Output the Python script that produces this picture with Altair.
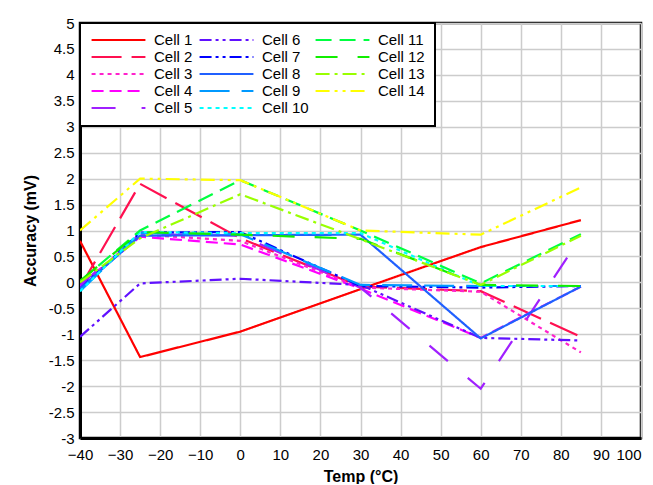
import altair as alt
import pandas as pd

temps = [-40, -25, 0, 30, 60, 85]
cell1 = [0.80, -1.44, -0.95, -0.13, 0.68, 1.20]
cell2 = [-0.10, 1.90, 0.85, -0.08, -0.17, -1.05]
cell3 = [-0.07, 0.92, 0.80, -0.10, -0.18, -1.35]
cell4 = [-0.08, 0.88, 0.73, -0.12, -1.07, -0.08]
cell5 = [-0.05, 0.93, 0.90, -0.10, -2.05, 0.88]
cell6 = [-1.05, -0.02, 0.07, -0.05, -1.07, -1.12]
cell7 = [-0.12, 0.96, 0.97, -0.07, -0.10, -0.07]
cell8 = [-0.12, 0.90, 0.91, 0.92, -1.08, -0.08]
cell9 = [-0.17, 0.95, 0.93, -0.05, -0.07, -0.07]
cell10 = [-0.17, 0.97, 0.95, 0.95, -0.07, -0.07]
cell11 = [0.02, 1.00, 1.97, 1.00, -0.02, 0.93]
cell12 = [0.03, 0.97, 0.92, 0.84, -0.05, -0.07]
cell13 = [0.00, 0.85, 1.70, 0.83, -0.05, 0.90]
cell14 = [1.00, 2.00, 1.97, 1.00, 0.92, 1.83]

names = [f"Cell {i}" for i in range(1, 15)]
series = [cell1, cell2, cell3, cell4, cell5, cell6, cell7,
          cell8, cell9, cell10, cell11, cell12, cell13, cell14]

colors = ["#ff0000", "#ff1050", "#ff22cc", "#ff00ff", "#a020ff", "#6010ff", "#0000ff",
          "#2060ff", "#0099ff", "#00ffff", "#00ff40", "#11ee00", "#99ff00", "#ffff00"]
dashes = [[1, 0], [30, 10], [4, 4], [12, 6], [24, 26], [12, 4, 3, 4, 3, 4], [12, 4, 3, 4, 3, 4],
          [1, 0], [30, 12], [4, 4], [16, 8], [22, 20], [14, 5, 3, 5], [14, 5, 3, 5, 3, 5]]

x_ticks = list(range(-40, 101, 10))
y_ticks = [-3, -2.5, -2, -1.5, -1, -0.5, 0, 0.5, 1, 1.5, 2, 2.5, 3, 3.5, 4, 4.5, 5]

rows = []
for n, s in zip(names, series):
    for t, v in zip(temps, s):
        rows.append({"cell": n, "temp": t, "acc": v})
df = pd.DataFrame(rows)

font = "Liberation Sans"

legend = alt.Legend(
    orient="none", legendX=0, legendY=0, columns=3, title=None,
    symbolType="stroke", symbolSize=2900, symbolStrokeWidth=2.2,
    labelFontSize=15, labelFont=font, labelColor="black", labelOffset=7,
    fillColor="white", strokeColor="black", padding=10,
    columnPadding=5, rowPadding=2, clipHeight=14,
)

chart = alt.Chart(df).mark_line(strokeWidth=2.2, clip=True).encode(
    x=alt.X("temp:Q", scale=alt.Scale(domain=[-40, 100], nice=False, zero=False),
            axis=alt.Axis(values=x_ticks, title="Temp (°C)", labelPadding=9, titlePadding=6,
                          labelFlush=False, labelOverlap=False,
                          labelAlign=alt.condition("datum.value >= 100", alt.value("right"), alt.value("center")))),
    y=alt.Y("acc:Q", scale=alt.Scale(domain=[-3, 5], nice=False, zero=False),
            axis=alt.Axis(values=y_ticks, title="Accuracy (mV)", labelPadding=6, titlePadding=10,
                          labelFlush=False, labelOverlap=False,
                          labelExpr="'' + datum.value")),
    color=alt.Color("cell:N", scale=alt.Scale(domain=names, range=colors), legend=legend),
    strokeDash=alt.StrokeDash("cell:N", scale=alt.Scale(domain=names, range=dashes), legend=legend),
    detail="cell:N",
).properties(
    width=561, height=415,
    autosize=alt.AutoSizeParams(type="none"),
    padding={"left": 72, "top": 15, "right": 4, "bottom": 46},
    background="white",
).configure_view(
    stroke="black", strokeWidth=2.5,
).configure_axis(
    grid=True, gridColor="#cccccc", gridWidth=1.5,
    domain=True, domainColor="black", domainWidth=3,
    ticks=False, tickSize=0,
    labelFont=font, labelFontSize=15, labelColor="black",
    titleFont=font, titleFontSize=16, titleFontWeight="bold", titleColor="black",
).configure_legend(
    strokeWidth=2,
)

chart.save("out.html", embed_options={"renderer": "svg", "actions": False})
